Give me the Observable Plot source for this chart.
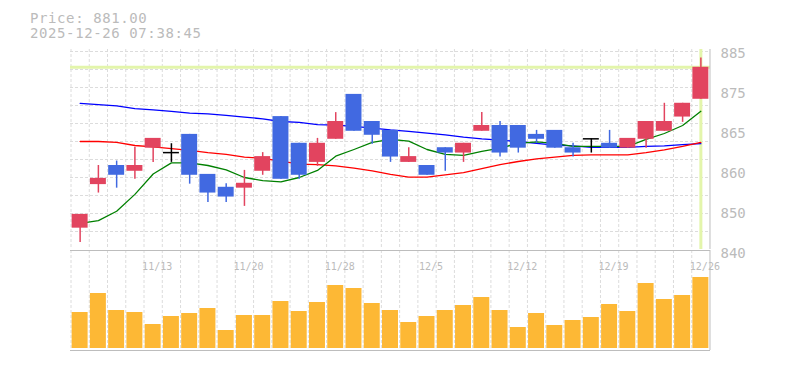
<!DOCTYPE html>
<html>
<head>
<meta charset="utf-8">
<script src="https://cdn.jsdelivr.net/npm/d3@7"></script>
<script src="https://cdn.jsdelivr.net/npm/@observablehq/plot@0.6"></script>
<style>
html, body { margin: 0; padding: 0; background: #fff; }
#wrap { position: relative; width: 785px; height: 370px; overflow: hidden; background: #fff; }
#wrap svg { position: absolute; left: 0; top: 0; }
.title { position: absolute; left: 30px; font-family: "DejaVu Sans Mono", monospace; font-size: 14px; color: #bbb; letter-spacing: 0.6px; white-space: pre; line-height: 14px; }
</style>
</head>
<body>
<div id="wrap">
  <div class="title" id="t1" style="top:11px"></div>
  <div class="title" id="t2" style="top:25.5px"></div>
</div>
<script>
// ---- data ----
const dates = ["11/7","11/10","11/11","11/12","11/13","11/14","11/17","11/18","11/19","11/20","11/21","11/25","11/26","11/27","11/28","12/1","12/2","12/3","12/4","12/5","12/8","12/9","12/10","12/11","12/12","12/15","12/16","12/17","12/18","12/19","12/22","12/23","12/24","12/25","12/26"];
const open  = [844.8,854.6,858.9,857.6,862.8,861.8,865.9,856.9,854.0,853.8,857.6,869.9,863.9,859.6,864.8,874.9,868.8,866.8,859.6,858.9,862.9,861.7,866.6,867.9,867.9,865.9,866.8,862.9,864.9,863.9,862.8,864.8,866.6,869.8,873.8];
const high  = [847.9,858.9,859.9,863.0,865.0,863.8,865.9,856.9,854.8,857.8,861.8,869.9,863.9,865.0,870.8,874.9,868.8,866.8,862.9,858.9,862.9,863.9,870.8,868.8,867.9,866.8,866.8,863.9,864.9,866.8,865.0,868.8,872.9,872.9,883.1];
const low   = [841.6,852.7,853.8,855.8,859.6,859.6,854.7,850.6,850.6,849.7,856.7,855.8,855.8,858.7,864.8,866.6,863.7,859.6,859.6,856.7,857.6,859.6,866.6,860.8,861.7,863.9,862.8,860.8,861.7,862.8,862.8,862.8,866.6,868.6,873.8];
const close = [847.9,856.0,856.7,858.9,865.0,861.8,856.7,852.7,851.8,854.9,860.9,855.8,856.7,863.9,868.8,866.6,865.7,860.8,860.9,856.7,861.7,863.9,867.9,861.7,862.8,864.8,862.8,861.7,864.9,862.8,865.0,868.8,868.8,872.9,881.0];
const ma5   = [845.9,846.5,848.6,852.4,857.0,859.5,859.5,858.9,857.9,856.2,855.5,855.2,856.2,857.8,861.0,862.5,864.1,864.8,864.4,862.5,861.4,861.2,862.1,862.8,863.9,864.2,863.9,863.2,863.2,863.2,863.2,864.8,866.1,867.9,871.1];
const ma25  = [864.3,864.3,864.1,863.4,863.1,862.7,862.3,861.8,861.4,860.8,860.5,859.9,859.2,859.1,858.8,858.3,857.7,856.9,856.3,856.3,856.8,857.3,858.2,859.1,859.8,860.4,860.8,861.2,861.3,861.3,861.3,861.8,862.4,863.2,864.1];
const ma75  = [872.9,872.6,872.3,871.7,871.4,871.1,870.7,870.5,870.2,869.8,869.4,868.8,868.6,868.1,868.0,867.7,867.3,866.9,866.6,866.2,865.8,865.3,864.9,864.6,864.3,863.9,863.5,863.3,863.0,863.0,863.0,863.2,863.3,863.6,863.8];
const volume = [38,57,40,38,26,34,37,42,20,35,35,49,39,48,65,62,47,40,28,34,40,45,53,40,23,37,25,30,33,46,39,67,51,55,73];
const tickDates = ["11/13","11/20","11/28","12/5","12/12","12/19","12/26"];
const yTickValues = [840, 849, 858, 867, 876, 885];
const yTickLabels = ["840","850","860","865","875","885"];
const timestamp = "2025-12-26 07:38:45";

// ---- styles / layout ----
const W = 785, H = 370, ML = 70, MR = 75;
const padIn = 0.125, padOut = 0.09;
const step = (W - ML - MR) / (dates.length - padIn + 2 * padOut);
const UP = "#e2445f", DOWN = "#4169e1", DOJI = "#000000";
const GRID = "#dcdcdc", AXIS = "#bdbdbd", LABEL = "#bbbbbb", PRICE_LINE = "#e3f5ab", VOL = "#fdb835";
const FONT = "'DejaVu Sans Mono', monospace";

const rows = dates.map((d, i) => ({date: d, open: open[i], high: high[i], low: low[i], close: close[i],
  ma5: ma5[i], ma25: ma25[i], ma75: ma75[i], volume: volume[i],
  color: close[i] > open[i] ? UP : close[i] < open[i] ? DOWN : DOJI}));
const lastDate = dates[dates.length - 1];
const lastClose = close[close.length - 1];
const gridY = d3.range(1, 12).map(i => 840 + i * 4.05);

document.getElementById("t1").textContent = "Price: " + lastClose.toFixed(2);
document.getElementById("t2").textContent = timestamp;

const xOpts = {type: "band", domain: dates, paddingInner: padIn, paddingOuter: padOut, round: false, axis: null};

const price = Plot.plot({
  width: W, height: H, marginLeft: ML, marginRight: MR, marginTop: 49, marginBottom: H - 249,
  style: {background: "transparent", overflow: "visible", fontFamily: FONT},
  x: xOpts,
  y: {domain: [840, 885]},
  marks: [
    Plot.ruleY(gridY, {stroke: GRID, strokeDasharray: "3,2"}),
    Plot.ruleX(dates, {dx: -step / 2, stroke: GRID, strokeDasharray: "3,2"}),
    Plot.ruleY([lastClose], {stroke: PRICE_LINE, strokeWidth: 3}),
    Plot.ruleX([lastDate], {stroke: PRICE_LINE, strokeWidth: 3}),
    Plot.line(rows, {x: "date", y: "ma75", stroke: "#0000ff", strokeWidth: 1.3}),
    Plot.line(rows, {x: "date", y: "ma25", stroke: "#ff0000", strokeWidth: 1.3}),
    Plot.line(rows, {x: "date", y: "ma5", stroke: "#008000", strokeWidth: 1.3}),
    Plot.ruleX(rows, {x: "date", y1: "low", y2: "high", stroke: "color", strokeWidth: 1.5}),
    Plot.barY(rows.filter(d => d.open !== d.close), {x: "date", y1: "open", y2: "close", fill: "color"}),
    Plot.tickY(rows.filter(d => d.open === d.close), {x: "date", y: "close", stroke: "color", strokeWidth: 1.5}),
    Plot.ruleX([lastDate], {dx: step / 2, stroke: AXIS}),
    Plot.axisY(yTickValues, {anchor: "right", tickSize: 0, tickPadding: 10, textAnchor: "start",
      tickFormat: d => yTickLabels[yTickValues.indexOf(d)], fill: LABEL, fontSize: 14, dy: 4, label: null})
  ]
});

const vol = Plot.plot({
  width: W, height: H, marginLeft: ML, marginRight: MR, marginTop: 250, marginBottom: 20,
  style: {background: "transparent", overflow: "visible", fontFamily: FONT},
  x: xOpts,
  y: {domain: [0, 100], axis: null},
  marks: [
    Plot.ruleX(dates, {dx: -step / 2, stroke: GRID, strokeDasharray: "3,2"}),
    Plot.barY(rows, {x: "date", y: "volume", fill: VOL, insetBottom: 2}),
    Plot.ruleY([0], {stroke: AXIS}),
    Plot.ruleY([100], {stroke: AXIS}),
    Plot.ruleX([lastDate], {dx: step / 2, stroke: AXIS}),
    Plot.text(tickDates, {x: d => d, frameAnchor: "top", dy: 12, dx: 4, fill: LABEL, fontSize: 10})
  ]
});

document.getElementById("wrap").append(price, vol);
</script>
</body>
</html>
